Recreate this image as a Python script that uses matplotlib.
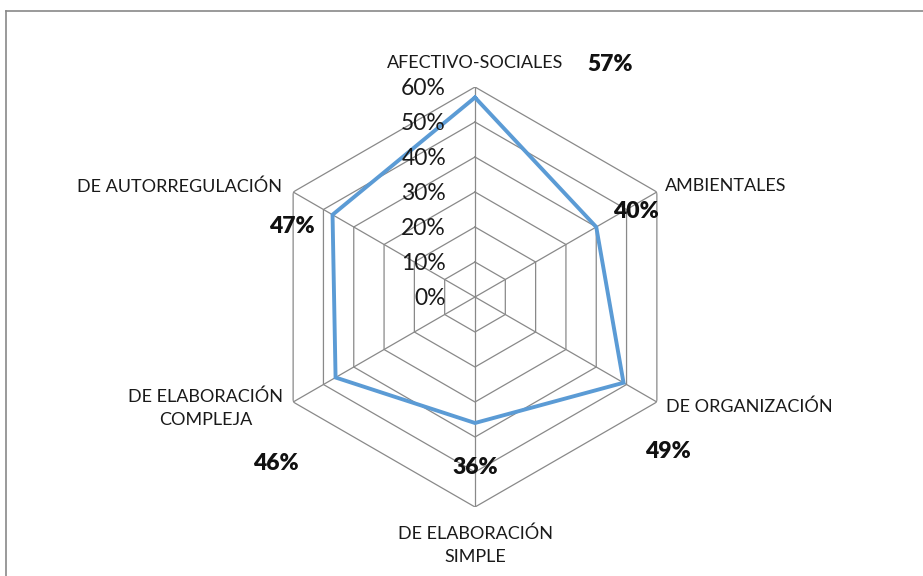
"""Radar chart: estrategias de aprendizaje (porcentaje por categoría)"""

import numpy as np
import matplotlib.pyplot as plt
from matplotlib.lines import Line2D

plt.rcParams["font.family"] = ["Lato", "DejaVu Sans"]

categories = [
    "AFECTIVO-SOCIALES",
    "AMBIENTALES",
    "DE ORGANIZACIÓN",
    "DE ELABORACIÓN\nSIMPLE",
    "DE ELABORACIÓN\nCOMPLEJA",
    "DE AUTORREGULACIÓN",
]
values = [0.57, 0.40, 0.49, 0.36, 0.46, 0.47]
value_labels = ["57%", "40%", "49%", "36%", "46%", "47%"]
r_ticks = [0.0, 0.1, 0.2, 0.3, 0.4, 0.5, 0.6]
r_tick_labels = ["0%", "10%", "20%", "30%", "40%", "50%", "60%"]

GRID = "#898989"
LINE = "#5B9BD5"
PX = 0.72  # points per pixel at dpi 100

# label placement (pixel offsets, y up)
cat_offsets = [(0, 24), (8, 6), (9, -5), (0, -38), (-10, -6), (-11, 5)]
cat_ha = ["center", "left", "left", "center", "right", "right"]
val_offsets = [(135, 33), (40, 15), (44, -69), (0, -45), (-60, -86), (-41, -12)]

fig = plt.figure(figsize=(9.23, 5.76), dpi=100)
ax = fig.add_axes([265 / 923, 69 / 576, 420 / 923, 420 / 576], projection="polar")
ax.set_theta_zero_location("N")
ax.set_theta_direction(-1)
ax.set_ylim(0, r_ticks[-1])
ax.grid(False)
ax.spines["polar"].set_visible(False)
ax.set_xticks([])
ax.set_yticks([])

n = len(categories)
theta = np.arange(n) * 2 * np.pi / n
theta_closed = np.append(theta, theta[0])

# hexagonal grid
for r in r_ticks[1:]:
    ax.plot(theta_closed, [r] * (n + 1), color=GRID, lw=0.9, zorder=1)
for t in theta:
    ax.plot([t, t], [0, r_ticks[-1]], color=GRID, lw=0.9, zorder=1)

# series
vals_closed = values + values[:1]
ax.plot(theta_closed, vals_closed, color=LINE, lw=2.8, zorder=3,
        solid_joinstyle="miter")

# radial tick labels
for r, lab in zip(r_ticks, r_tick_labels):
    ax.annotate(lab, xy=(0, r), xytext=(-29 * PX, -1.5 * PX), textcoords="offset points",
                ha="right", va="center", fontsize=16.5, color="#1a1a1a")

# category labels
for t, lab, (dx, dy), ha in zip(theta, categories, cat_offsets, cat_ha):
    ax.annotate(lab, xy=(t, r_ticks[-1]), xytext=(dx * PX, dy * PX),
                textcoords="offset points", ha=ha, va="center",
                multialignment="center", fontsize=13, color="#1a1a1a",
                linespacing=1.5, annotation_clip=False)

# value labels
for t, v, lab, (dx, dy) in zip(theta, values, value_labels, val_offsets):
    ax.annotate(lab, xy=(t, v), xytext=(dx * PX, dy * PX),
                textcoords="offset points", ha="center", va="center",
                fontsize=16.5, fontweight="heavy", color="#111111",
                annotation_clip=False)

# chart area border (top and left edges visible)
fig.add_artist(Line2D([6 / 923, 6 / 923], [0, 1 - 11 / 576], color=GRID, lw=1.2,
                      transform=fig.transFigure))
fig.add_artist(Line2D([6 / 923, 1], [1 - 11 / 576, 1 - 11 / 576], color=GRID, lw=1.2,
                      transform=fig.transFigure))

fig.savefig("out.png", dpi=100)
plt.close(fig)
